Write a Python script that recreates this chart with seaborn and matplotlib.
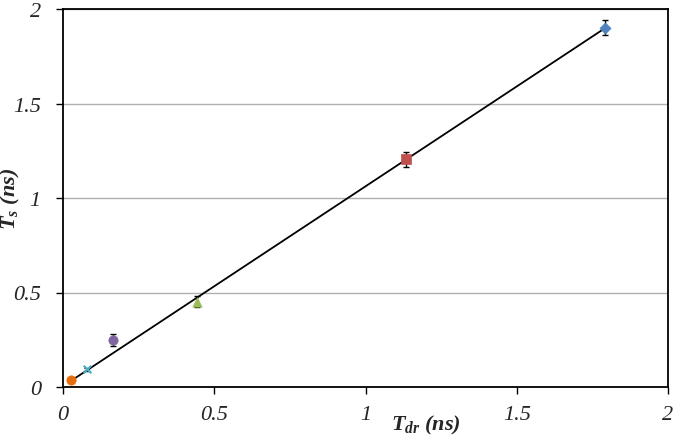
import matplotlib
matplotlib.use("Agg")
import matplotlib.pyplot as plt
import seaborn as sns
import pandas as pd

# data
t_dr = [0.027, 0.078, 0.166, 0.443, 1.135, 1.793]
t_s = [0.035, 0.095, 0.248, 0.452, 1.205, 1.900]
t_s_err = [0.010, 0.008, 0.030, 0.030, 0.040, 0.040]
point_colors = ["#E46C0A", "#4BACC6", "#8064A2", "#9BBB59", "#C0504D", "#4F81BD"]
point_markers = ["o", "x", "o", "^", "s", "D"]
fit_x = [0.027, 1.793]
fit_y = [0.033, 1.900]
x_ticks = [0, 0.5, 1, 1.5, 2]
x_tick_labels = ["0", "0.5", "1", "1.5", "2"]
y_ticks = [0, 0.5, 1, 1.5, 2]
y_tick_labels = ["0", "0.5", "1", "1.5", "2"]

sns.set_style("white")
plt.rcParams["font.family"] = ["Liberation Serif", "DejaVu Serif"]
plt.rcParams["mathtext.fontset"] = "custom"
plt.rcParams["mathtext.it"] = "Liberation Serif:bold:italic"
plt.rcParams["mathtext.rm"] = "Liberation Serif:bold:italic"
plt.rcParams["mathtext.bf"] = "Liberation Serif:bold:italic"

fig = plt.figure(figsize=(6.75, 4.39), dpi=100)
ax = fig.add_axes([63 / 675, 1 - 388 / 439, 605 / 675, 378 / 439])

fit_df = pd.DataFrame({"x": fit_x, "y": fit_y})
sns.lineplot(data=fit_df, x="x", y="y", ax=ax, color="black", linewidth=1.3, zorder=2)

for xi, yi, ei, c, m in zip(t_dr, t_s, t_s_err, point_colors, point_markers):
    ax.errorbar([xi], [yi], yerr=[ei], fmt="none", ecolor="black",
                elinewidth=1.0, capsize=2.5, capthick=1.0, zorder=3)
    df = pd.DataFrame({"x": [xi], "y": [yi]})
    if m == "x":
        sns.scatterplot(data=df, x="x", y="y", ax=ax, color=c, marker=m,
                        s=30, linewidth=1.5, zorder=4)
    else:
        sns.scatterplot(data=df, x="x", y="y", ax=ax, color=c, marker=m,
                        s=45 if m != "D" else 32, edgecolor=c, linewidth=0.5, zorder=4)

ax.set_xlim(0, 2)
ax.set_ylim(0, 2)
ax.set_xticks(x_ticks)
ax.set_xticklabels(x_tick_labels, family="Liberation Serif", style="italic", fontsize=16)
ax.set_yticks(y_ticks)
ax.set_yticklabels(y_tick_labels, family="Liberation Serif", style="italic", fontsize=16)

ax.yaxis.grid(True, color="#B0B0B0", linewidth=1.0)
ax.xaxis.grid(False)
ax.set_axisbelow(True)
for sp in ax.spines.values():
    sp.set_visible(True)
    sp.set_color("black")
    sp.set_linewidth(1.3)
ax.tick_params(axis="both", which="major", direction="out", length=5, width=1.0,
               color="black", bottom=True, left=True)
ax.tick_params(axis="x", pad=8)
ax.tick_params(axis="y", pad=11)

ax.set_xlabel(r"$T_{dr}$ (ns)", fontsize=16, fontweight="bold", fontstyle="italic",
              family="Liberation Serif")
ax.set_ylabel(r"$T_{s}$ (ns)", fontsize=16, fontweight="bold", fontstyle="italic",
              family="Liberation Serif")
ax.xaxis.set_label_coords(0.6, -0.07)
ax.yaxis.set_label_coords(-0.068, 0.5)

fig.savefig("out.png", dpi=100)
